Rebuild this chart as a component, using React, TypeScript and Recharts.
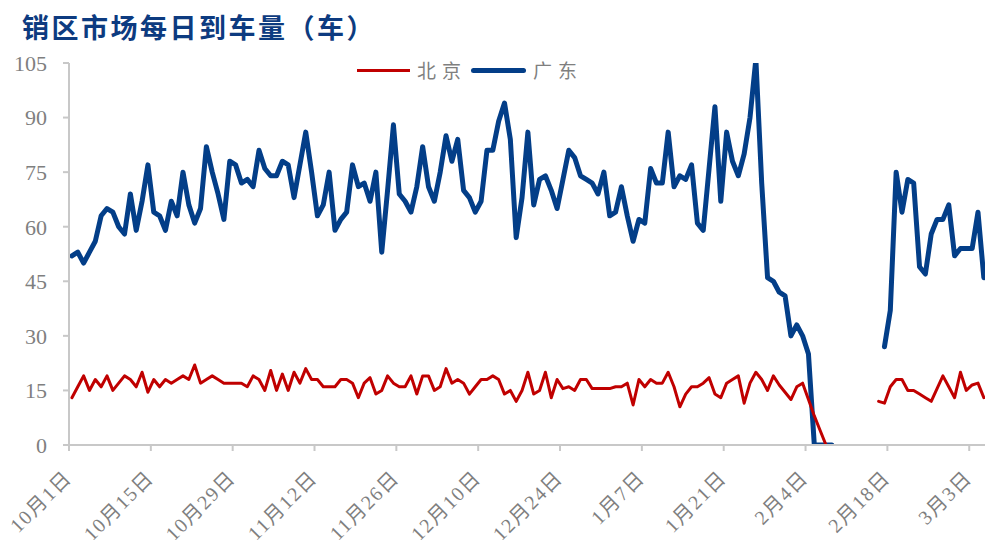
import React from 'react';
import { LineChart, Line, XAxis, YAxis, Legend } from 'recharts';

if (typeof document !== 'undefined') {
  document.body.style.margin = '0';
}

// Tick positions (day offsets from 10月1日) and their labels
const tickDays = [0, 14, 28, 42, 56, 70, 84, 98, 112, 126, 140, 154];
const tickLabels = ['10月1日', '10月15日', '10月29日', '11月12日', '11月26日', '12月10日', '12月24日', '1月7日', '1月21日', '2月4日', '2月18日', '3月3日'];
const yTicks = [0, 15, 30, 45, 60, 75, 90, 105];

// 北京 daily arrivals (车)
const beijing: (number | null)[] = [
  13, 16, 19, 15, 18, 16, 19, 15, 17, 19,
  18, 16, 20, 14.5, 18, 16, 18, 17, 18, 19,
  18, 22, 17, 18, 19, 18, 17, 17, 17, 17,
  16, 19, 18, 15, 20.5, 15, 19.5, 15, 20, 17,
  21, 18, 18, 16, 16, 16, 18, 18, 17, 13,
  17, 18.5, 14, 15, 19, 17, 16, 16, 19, 14,
  19, 19, 15, 16, 21, 17, 18, 17, 14, 16,
  18, 18, 19, 18, 14, 15, 12, 15, 20, 14,
  15, 20, 13, 18, 15.5, 16, 15, 18, 18, 15.5,
  15.5, 15.5, 15.5, 16, 16, 17, 11, 18, 16, 18,
  17, 17, 20, 16, 10.5, 14, 16, 16, 17, 18.5,
  14, 13, 17, 18, 19, 11.5, 17, 20, 18, 15,
  19, 16.5, 14.5, 12.5, 16, 17, 12.5, 8, 4, 0,
  null, null, null, null, null, null, null, null, 12, 11.5,
  16, 18, 18, 15, 15, 14, 13, 12, 15.5, 19,
  16, 13, 20, 15, 16.5, 17, 13,
];

// 广东 daily arrivals (车)
const guangdong: (number | null)[] = [
  52, 53, 50, 53, 56, 63, 65, 64, 60, 58,
  69, 59, 67, 77, 64, 63, 59, 67, 63, 75,
  66, 61, 65, 82, 75, 69, 62, 78, 77, 72,
  73, 71, 81, 76, 74, 74, 78, 77, 68, 77,
  86, 75, 63, 66, 75, 59, 62, 64, 77, 71,
  72, 67, 75, 53, 70, 88, 69, 67, 64, 71,
  82, 71, 67, 75, 85, 78, 84, 70, 68, 64,
  67, 81, 81, 89, 94, 84, 57, 68, 86, 66,
  73, 74, 70, 65, 73, 81, 79, 74, 73, 72,
  69, 75, 63, 64, 71, 63, 56, 62, 61, 76,
  72, 72, 86, 71, 74, 73, 77, 61, 59, 76,
  93, 67, 86, 78, 74, 80, 90, 106, 72, 46,
  45, 42, 41, 30, 33, 30, 25, 0, 0, 0,
  0, null, null, null, null, null, null, null, null, 27,
  37, 75, 64, 73, 72, 49, 47, 58, 62, 62,
  66, 52, 54, 54, 54, 64, 46,
];

// each day is drawn at the centre of its day slot
const rows = guangdong.map((g, i) => ({ day: i + 0.5, gd: g, bj: beijing[i] }));

const BLUE = '#033E88';
const RED = '#C00000';
const GREY = '#7f7f7f';
const AXIS = '#c8c8c8';
const SERIF = "'Liberation Serif', 'Noto Sans CJK SC', serif";

const XTick = (props: any) => {
  const { x, y, payload } = props;
  const idx = tickDays.indexOf(payload.value);
  const label = idx >= 0 ? tickLabels[idx] : '';
  return (
    <g transform={`translate(${x + 4},${y + 26})`}>
      <text x={0} y={0} textAnchor="end" transform="rotate(-45)" fill={GREY} fontSize={20} fontFamily={SERIF} letterSpacing={1.5}>
        {label}
      </text>
    </g>
  );
};

const LegendBox = () => (
  <div style={{ display: 'flex', alignItems: 'center', height: 20, fontFamily: "'Noto Sans CJK SC', sans-serif", fontSize: 19, color: GREY, whiteSpace: 'nowrap' }}>
    <span style={{ display: 'inline-block', width: 53, height: 3, background: RED }} />
    <span style={{ marginLeft: 7, letterSpacing: 6, lineHeight: '20px' }}>北京</span>
    <span style={{ display: 'inline-block', width: 55, height: 5, background: BLUE, borderRadius: 3, marginLeft: 4 }} />
    <span style={{ marginLeft: 7, letterSpacing: 6, lineHeight: '20px' }}>广东</span>
  </div>
);

export default function App() {
  return (
    <div style={{ position: 'relative', width: 985, height: 540, overflow: 'hidden' }}>
      <div
        style={{
          position: 'absolute', left: 22, top: 12, fontSize: 27, lineHeight: '30px', fontWeight: 700,
          color: '#0D3B80', letterSpacing: 2.5, fontFamily: "'Noto Sans CJK SC', sans-serif", whiteSpace: 'nowrap', zIndex: 2,
        }}
      >
        销区市场每日到车量（车）
      </div>
      <LineChart width={985} height={540} data={rows} margin={{ top: 63, right: 0, bottom: 0, left: 0 }}>
        <XAxis
          dataKey="day"
          type="number"
          domain={[0, 156.7]}
          ticks={tickDays}
          interval={0}
          height={95}
          axisLine={{ stroke: AXIS, strokeWidth: 2 }}
          tickLine={{ stroke: AXIS, strokeWidth: 2 }}
          tickSize={6}
          tick={<XTick />}
          allowDataOverflow
        />
        <YAxis
          domain={[0, 105]}
          ticks={yTicks}
          interval={0}
          width={69}
          allowDataOverflow
          axisLine={{ stroke: AXIS, strokeWidth: 2 }}
          tickLine={{ stroke: AXIS, strokeWidth: 2 }}
          tickSize={6}
          tickMargin={16}
          tick={{ fill: GREY, fontSize: 22, fontFamily: SERIF }}
        />
        <Legend
          layout="vertical"
          align="center"
          verticalAlign="middle"
          content={() => <LegendBox />}
          wrapperStyle={{ position: 'absolute', left: 357, top: 60, width: 'auto' }}
        />
        <Line dataKey="gd" name="广东" stroke={BLUE} strokeWidth={5} dot={false} activeDot={false} strokeLinejoin="round" strokeLinecap="round" isAnimationActive={false} />
        <Line dataKey="bj" name="北京" stroke={RED} strokeWidth={3} dot={false} activeDot={false} strokeLinejoin="round" strokeLinecap="round" isAnimationActive={false} />
      </LineChart>
    </div>
  );
}
